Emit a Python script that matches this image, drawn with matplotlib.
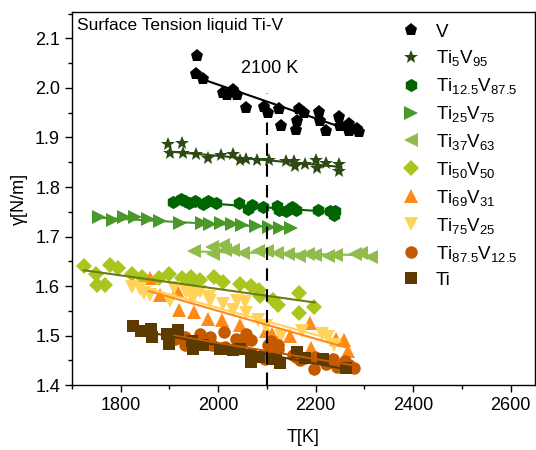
import numpy as np
import matplotlib
matplotlib.use("Agg")
import matplotlib.pyplot as plt
from matplotlib.ticker import MultipleLocator

plt.rcParams['font.family'] = ['Liberation Sans', 'DejaVu Sans']
plt.rcParams['mathtext.fontset'] = 'custom'
plt.rcParams['mathtext.rm'] = 'Liberation Sans'
plt.rcParams['mathtext.it'] = 'Liberation Sans:italic'

# ---------------- data ----------------
labels = ['V', r'Ti$_{5}$V$_{95}$', r'Ti$_{12.5}$V$_{87.5}$', r'Ti$_{25}$V$_{75}$',
          r'Ti$_{37}$V$_{63}$', r'Ti$_{50}$V$_{50}$', r'Ti$_{69}$V$_{31}$',
          r'Ti$_{75}$V$_{25}$', r'Ti$_{87.5}$V$_{12.5}$', 'Ti']

V_T = [1956, 1955, 1969, 2010, 2018, 2031, 2039, 2058, 2094, 2103, 2125, 2130, 2159, 2162,
       2166, 2176, 2208, 2210, 2222, 2249, 2250, 2268, 2269, 2286, 2290]
V_g = [2.065, 2.028, 2.019, 1.990, 1.985, 1.995, 1.986, 1.959, 1.961, 1.950, 1.958, 1.924, 1.915, 1.934,
       1.958, 1.949, 1.951, 1.933, 1.914, 1.942, 1.924, 1.928, 1.913, 1.918, 1.912]

Ti5_T = [1897, 1901, 1926, 1929, 1955, 1980, 2007, 2030, 2045, 2057, 2079, 2105, 2139, 2155,
         2157, 2178, 2201, 2203, 2222, 2248, 2248]
Ti5_g = [1.886, 1.868, 1.889, 1.868, 1.867, 1.859, 1.864, 1.867, 1.855, 1.857, 1.855, 1.855, 1.852, 1.852,
         1.843, 1.847, 1.855, 1.839, 1.849, 1.847, 1.832]

Ti12_T = [1907, 1924, 1933, 1941, 1953, 1970, 1980, 1996, 2043, 2062, 2069, 2092, 2121, 2125,
          2140, 2152, 2160, 2205, 2229, 2239, 2237]
Ti12_g = [1.769, 1.776, 1.771, 1.767, 1.771, 1.766, 1.771, 1.767, 1.767, 1.756, 1.764, 1.760, 1.762, 1.754,
          1.751, 1.760, 1.754, 1.754, 1.751, 1.752, 1.744]

Ti25_T = [1756, 1785, 1807, 1829, 1856, 1880, 1922, 1967, 1984, 2005, 2028, 2050, 2078, 2105, 2127, 2150]
Ti25_g = [1.739, 1.733, 1.740, 1.739, 1.735, 1.731, 1.727, 1.727, 1.725, 1.727, 1.725, 1.724, 1.722,
          1.719, 1.717, 1.717]

Ti37_T = [1950, 1987, 1990, 2011, 2014, 2031, 2052, 2082, 2101, 2120, 2143, 2167, 2184, 2198, 2225,
          2241, 2280, 2293, 2314]
Ti37_g = [1.670, 1.678, 1.664, 1.683, 1.673, 1.673, 1.666, 1.671, 1.670, 1.666, 1.664, 1.661, 1.664, 1.663,
          1.661, 1.663, 1.664, 1.666, 1.658]

Ti50_T = [1725, 1749, 1751, 1769, 1778, 1794, 1824, 1844, 1878, 1899, 1926, 1944, 1946, 1962, 1992,
          2011, 2045, 2067, 2084, 2086, 2113, 2123, 2167, 2166, 2196]
Ti50_g = [1.641, 1.625, 1.602, 1.602, 1.643, 1.637, 1.625, 1.619, 1.616, 1.624, 1.616, 1.619, 1.609, 1.612,
          1.619, 1.609, 1.605, 1.600, 1.592, 1.580, 1.572, 1.562, 1.587, 1.546, 1.558]

Ti69_T = [1860, 1880, 1915, 1919, 1951, 1980, 2008, 2046, 2098, 2111, 2121, 2148, 2189, 2191, 2242,
          2259, 2266]
Ti69_g = [1.617, 1.583, 1.593, 1.551, 1.548, 1.534, 1.532, 1.521, 1.509, 1.503, 1.488, 1.500, 1.525, 1.475,
          1.494, 1.491, 1.470]

Ti75_T = [1824, 1839, 1848, 1860, 1902, 1910, 1935, 1946, 1953, 1962, 1982, 1984, 2011, 2031, 2038,
          2055, 2058, 2082, 2099, 2130, 2173, 2213, 2225, 2237]
Ti75_g = [1.598, 1.594, 1.587, 1.583, 1.570, 1.596, 1.589, 1.577, 1.585, 1.589, 1.578, 1.570, 1.564, 1.551,
          1.570, 1.567, 1.546, 1.531, 1.519, 1.500, 1.509, 1.503, 1.497, 1.481]

Ti87_T = [1912, 1933, 1933, 1963, 1963, 1984, 1987, 2013, 2014, 2037, 2033, 2053, 2058, 2067, 2096,
          2103, 2106, 2108, 2123, 2123, 2154, 2160, 2169, 2178, 2196, 2198, 2222, 2235, 2243, 2261,
          2268, 2278]
Ti87_g = [1.494, 1.497, 1.482, 1.504, 1.489, 1.497, 1.482, 1.508, 1.477, 1.494, 1.474, 1.489, 1.504, 1.492,
          1.452, 1.482, 1.465, 1.489, 1.481, 1.474, 1.461, 1.457, 1.450, 1.454, 1.432, 1.457, 1.442, 1.452,
          1.437, 1.448, 1.440, 1.435]

Ti_T = [1826, 1842, 1863, 1865, 1895, 1899, 1917, 1946, 1948, 1970, 2004, 2011, 2031, 2045, 2067, 2067,
        2084, 2113, 2118, 2127, 2162, 2178, 2215, 2263]
Ti_g = [1.519, 1.509, 1.513, 1.497, 1.504, 1.484, 1.511, 1.489, 1.474, 1.481, 1.474, 1.474, 1.472, 1.474,
        1.461, 1.447, 1.457, 1.452, 1.454, 1.445, 1.467, 1.454, 1.452, 1.435]

# linear fit endpoints: (T_start, T_end), (g_start, g_end)
fit_T = [(1955, 2290), (1897, 2248), (1907, 2242), (1756, 2150), (1945, 2320),
         (1725, 2198), (1858, 2263), (1820, 2250), (1910, 2278), (1824, 2263)]
fit_g = [(2.022, 1.908), (1.872, 1.841), (1.772, 1.749), (1.738, 1.717), (1.670, 1.662),
         (1.632, 1.567), (1.590, 1.476), (1.605, 1.488), (1.500, 1.440), (1.513, 1.432)]

series_T = [V_T, Ti5_T, Ti12_T, Ti25_T, Ti37_T, Ti50_T, Ti69_T, Ti75_T, Ti87_T, Ti_T]
series_g = [V_g, Ti5_g, Ti12_g, Ti25_g, Ti37_g, Ti50_g, Ti69_g, Ti75_g, Ti87_g, Ti_g]

# ---------------- style ----------------
markers = ['p', '*', 'h', '>', '<', 'D', '^', 'v', 'o', 's']
colors = ['#000000', '#2d4a14', '#006400', '#4a982a', '#8fbc4a', '#abc51f',
          '#ff8a17', '#ffd25a', '#c45a00', '#5c3a00']
line_colors = ['#000000', '#2d4a14', '#006400', '#4a982a', '#8fbc4a', '#6b7d10',
               '#ff8a17', '#ffd25a', '#c45a00', '#5c3a00']
msizes = [9.5, 10.5, 9.5, 9.5, 9.5, 8, 9.5, 9.5, 9, 8]

fig = plt.figure(figsize=(5.36, 4.5), dpi=100)
ax = fig.add_axes([0.134, 0.144, 0.864, 0.829])

handles = []
for i in range(len(labels)):
    h, = ax.plot(series_T[i], series_g[i], linestyle='none', marker=markers[i],
                 color=colors[i], markersize=msizes[i], markeredgewidth=0, label=labels[i],
                 zorder=3)
    handles.append(h)
    ax.plot(fit_T[i], fit_g[i], color=line_colors[i], lw=1.5, zorder=4)

ax.plot([2100, 2100], [1.4, 1.99], color='black', lw=1.5, dashes=(6, 4), zorder=5)
ax.text(2105, 2.04, '2100 K', ha='center', va='center', fontsize=13)
ax.text(0.012, 0.985, 'Surface Tension liquid Ti-V', transform=ax.transAxes,
        ha='left', va='top', fontsize=12.5)

ax.set_xlim(1700, 2650)
ax.set_ylim(1.4, 2.153)
ax.xaxis.set_major_locator(MultipleLocator(200))
ax.xaxis.set_minor_locator(MultipleLocator(100))
ax.yaxis.set_major_locator(MultipleLocator(0.1))
ax.yaxis.set_minor_locator(MultipleLocator(0.05))
ax.yaxis.set_major_formatter(matplotlib.ticker.FormatStrFormatter('%.1f'))
ax.tick_params(which='both', direction='out', labelsize=13, width=1)
ax.tick_params(which='major', length=5)
ax.tick_params(which='minor', length=3)
for s in ax.spines.values():
    s.set_linewidth(1)

ax.set_xlabel('T[K]', fontsize=13, labelpad=11)
ax.set_ylabel('γ[N/m]', fontsize=13, labelpad=5)

leg = ax.legend(handles=handles, loc='upper left', bbox_to_anchor=(0.685, 0.99),
                frameon=False, fontsize=13.5, handlelength=1.5, handletextpad=0.6,
                labelspacing=0.42, borderaxespad=0)

fig.savefig('out.png', dpi=100)
